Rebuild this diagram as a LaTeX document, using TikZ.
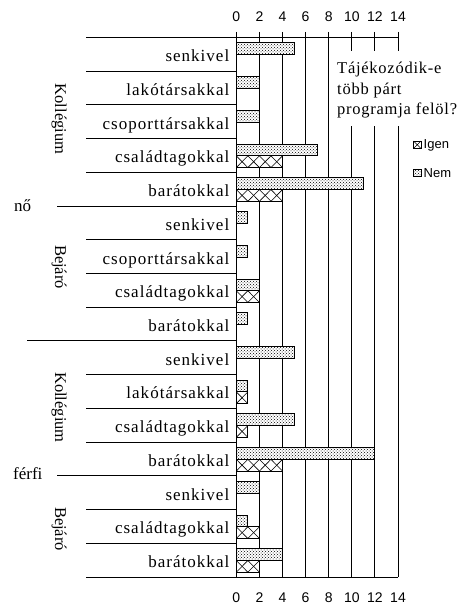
\documentclass[tikz,border=0pt]{standalone}
\usepackage{fontspec}
\setmainfont{Liberation Serif}[LetterSpace=6]
\newfontfamily\plainserif{Liberation Serif}
\newfontfamily\titleserif{Liberation Serif}[LetterSpace=4.5]
\newfontfamily\axisfont{Liberation Sans}
\usetikzlibrary{patterns}
\begin{document}
\begin{tikzpicture}[x=1pt,y=-1pt,
  gl/.style={line width=1pt},
  catlabel/.style={font=\fontsize{17}{19}\selectfont, anchor=base east, inner sep=0pt},
  grouplabel/.style={font=\plainserif\fontsize{16.5}{18}\selectfont, inner sep=0pt, rotate=-90},
  sexlabel/.style={font=\plainserif\fontsize{17}{19}\selectfont, anchor=base west, inner sep=0pt},
  toplabel/.style={font=\titleserif\fontsize{16.5}{19}\selectfont, anchor=base west, inner sep=0pt},
  axisnum/.style={font=\axisfont\fontsize{14}{16}\selectfont, inner sep=0pt},
  legendtext/.style={font=\axisfont\fontsize{13}{15}\selectfont, anchor=west, inner sep=0pt},
  nembar/.style={preaction={fill=white}, pattern=crosshatch dots, draw, line width=1pt},
  igenbar/.style={fill=white, draw, line width=1pt},
  xline/.style={line width=0.6pt}
]
\useasboundingbox (0,0) rectangle (462,610);
\def\rt{37.5}
\def\rh{33.72}
\def\xo{236.3}
\def\ux{11.55}
\def\yb{577.0}

% gridlines and ticks
\foreach \v in {0,2,...,14} {
  \draw[gl] (\xo+\v*\ux,32) -- (\xo+\v*\ux,\yb);
  \node[axisnum] (tn\v) at (\xo+\v*\ux,17) {\v};
  \node[axisnum] (bn\v) at (\xo+\v*\ux,598) {\v};
}
\draw[gl] (\xo,\rt) -- (\xo+14*\ux,\rt);
\draw[gl] (\xo,\yb) -- (\xo+14*\ux,\yb);

% category separator lines
\foreach \k/\xs in {0/86,1/86,2/86,3/86,4/86,5/57,6/86,7/86,8/86,9/27,10/86,11/86,12/86,13/57,14/86,15/86,16/86} {
  \draw[gl] (\xs,\rt+\k*\rh) -- (\xo,\rt+\k*\rh);
}

% white area behind title
\fill[white] (335,51.5) rectangle (462,126);

% bars
\foreach \i/\nem/\igen in {0/5/0,1/2/0,2/2/0,3/7/4,4/11/4,5/1/0,6/1/0,7/2/2,8/1/0,9/5/0,10/1/1,11/5/1,12/12/4,13/2/0,14/1/2,15/4/2} {
  \pgfmathsetmacro\ytop{\rt+\i*\rh+5.5}
  \pgfmathsetmacro\ymid{\rt+\i*\rh+17.2}
  \pgfmathsetmacro\ybot{\rt+\i*\rh+28.9}
  \draw[nembar] (\xo,\ytop) rectangle (\xo+\nem*\ux,\ymid);
  \ifnum\igen>0
    \draw[igenbar] (\xo,\ymid) rectangle (\xo+\igen*\ux,\ybot);
    \foreach \kk in {1,...,\igen} {
      \draw[xline] (\xo+\kk*\ux-\ux,\ymid) -- (\xo+\kk*\ux,\ybot);
      \draw[xline] (\xo+\kk*\ux-\ux,\ybot) -- (\xo+\kk*\ux,\ymid);
    }
    \draw[igenbar, fill=none] (\xo,\ymid) rectangle (\xo+\igen*\ux,\ybot);
  \fi
}

% category labels
\foreach \i/\lab in {0/senkivel,1/lakótársakkal,2/csoporttársakkal,3/családtagokkal,4/barátokkal,5/senkivel,6/csoporttársakkal,7/családtagokkal,8/barátokkal,9/senkivel,10/lakótársakkal,11/családtagokkal,12/barátokkal,13/senkivel,14/családtagokkal,15/barátokkal} {
  \node[catlabel] (c\i) at (229.5,\rt+\i*\rh+\rh-9.5) {\lab};
}

% group labels
\node[grouplabel] (gk1) at (59,119) {Kollégium};
\node[grouplabel] (gb1) at (59,267) {Bejáró};
\node[grouplabel] (gk2) at (59,407.5) {Kollégium};
\node[grouplabel] (gb2) at (59,529) {Bejáró};
\node[sexlabel] (no) at (14,211) {nő};
\node[sexlabel] (ferfi) at (13,479) {férfi};

% title
\node[toplabel] (t1) at (337,74) {Tájékozódik-e};
\node[toplabel] (t2) at (337,94) {több párt};
\node[toplabel] (t3) at (337,114) {programja felöl?};

% legend
\draw[line width=0.8pt, fill=white] (413.5,141) rectangle (421,148.5);
\draw[line width=0.5pt] (413.5,141) -- (421,148.5) (413.5,148.5) -- (421,141);
\draw[line width=0.8pt, preaction={fill=white}, pattern=crosshatch dots] (413.5,169) rectangle (421,176.5);
\node[legendtext] (li) at (423.5,145) {Igen};
\node[legendtext] (ln) at (423.5,173) {Nem};
\end{tikzpicture}
\end{document}
